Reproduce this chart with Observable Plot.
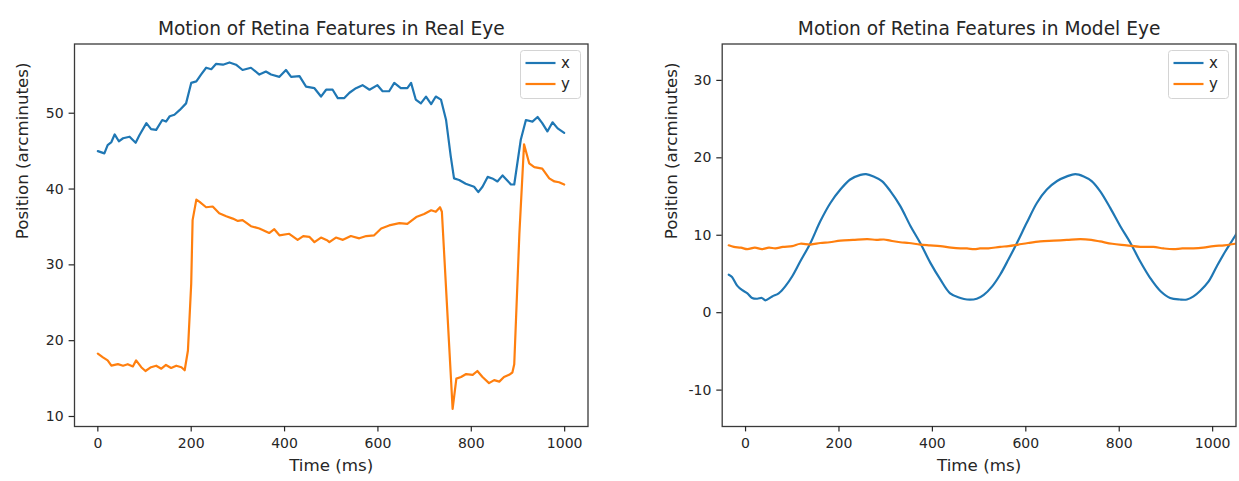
<!DOCTYPE html>
<html><head><meta charset="utf-8">
<script src="https://cdn.jsdelivr.net/npm/d3@7"></script>
<script src="https://cdn.jsdelivr.net/npm/@observablehq/plot@0.6"></script>
<style>
html,body{margin:0;padding:0;background:#fff;}
#wrap{position:relative;width:1239px;height:481px;overflow:hidden;}
#wrap svg{position:absolute;top:0;}
</style></head><body><div id="wrap"></div>
<script>
const seriesNames = ["x", "y"];
const seriesColors = ["#1f77b4", "#ff7f0e"];
const panelTitles = ["Motion of Retina Features in Real Eye", "Motion of Retina Features in Model Eye"];
const xLabel = "Time (ms)";
const yLabel = "Position (arcminutes)";
const timeTicks = [0, 200, 400, 600, 800, 1000];
const realYTicks = [10, 20, 30, 40, 50];
const modelYTicks = [-10, 0, 10, 20, 30];

// [time ms, position arcmin]
const realX = [[0,45.0],[14,44.7],[21,45.8],[29,46.2],[36,47.2],[45,46.3],[54,46.7],[68,46.9],[81,46.1],[89,47.1],[104,48.7],[114,47.9],[125,47.8],[138,49.1],[146,48.9],[154,49.6],[164,49.8],[175,50.4],[189,51.3],[200,54.0],[211,54.2],[221,55.1],[232,56.0],[243,55.8],[253,56.5],[268,56.4],[282,56.7],[296,56.4],[310,55.7],[328,56.0],[346,55.1],[360,55.5],[371,55.1],[389,54.8],[403,55.7],[414,54.8],[432,54.9],[446,53.5],[464,53.3],[478,52.2],[489,53.1],[503,53.1],[514,52.0],[528,52.0],[539,52.7],[553,53.3],[567,53.7],[582,53.1],[599,53.7],[610,52.9],[624,52.9],[635,54.0],[649,53.3],[663,53.3],[671,54.0],[681,51.8],[692,51.3],[703,52.2],[714,51.2],[724,52.2],[735,51.8],[746,49.1],[756,44.3],[763,41.4],[774,41.2],[788,40.7],[806,40.3],[815,39.6],[824,40.3],[835,41.6],[845,41.4],[856,41.0],[867,41.8],[885,40.6],[892,40.6],[906,46.5],[917,49.1],[931,48.9],[942,49.5],[952,48.7],[963,47.6],[974,48.8],[985,48.0],[999,47.4]];
const realY = [[0,18.3],[11,17.8],[21,17.4],[29,16.7],[43,16.9],[54,16.7],[64,16.9],[75,16.6],[82,17.4],[93,16.5],[102,16.0],[114,16.5],[125,16.7],[136,16.3],[146,16.8],[157,16.4],[168,16.7],[179,16.5],[186,16.1],[193,18.7],[200,27.5],[203,35.9],[211,38.6],[218,38.3],[232,37.6],[246,37.7],[260,36.8],[275,36.4],[289,36.1],[300,35.8],[310,35.9],[328,35.1],[346,34.8],[367,34.2],[378,34.7],[389,33.9],[410,34.1],[428,33.3],[440,33.8],[453,33.7],[464,33.0],[478,33.6],[492,33.2],[496,33.0],[510,33.6],[525,33.3],[542,33.8],[560,33.5],[575,33.8],[592,33.9],[607,34.8],[624,35.2],[646,35.5],[663,35.4],[682,36.3],[699,36.7],[714,37.2],[724,37.0],[733,37.6],[737,37.0],[760,11.0],[768,15.0],[778,15.2],[789,15.6],[803,15.5],[813,16.0],[824,15.2],[838,14.4],[849,14.8],[860,14.6],[870,15.2],[881,15.5],[888,15.8],[892,16.9],[903,34.1],[913,45.9],[924,43.4],[935,42.9],[952,42.7],[967,41.4],[978,41.0],[988,40.9],[999,40.6]];
const modelX = [[-36,4.9],[-29,4.6],[-18,3.5],[-7,2.9],[4,2.5],[14,1.9],[25,1.8],[35,1.9],[42,1.6],[57,2.1],[71,2.5],[85,3.4],[100,4.7],[117,6.6],[139,9.0],[160,11.8],[182,14.2],[203,15.9],[224,17.2],[246,17.8],[258,17.9],[274,17.6],[292,17.0],[310,15.7],[331,13.8],[353,11.2],[374,9.0],[396,6.4],[417,4.3],[438,2.5],[460,1.9],[474,1.7],[495,1.8],[510,2.3],[528,3.4],[545,4.9],[563,6.9],[581,9.0],[602,11.6],[624,14.2],[645,15.9],[667,17.0],[688,17.6],[706,17.9],[724,17.6],[741,17.0],[759,15.7],[781,13.5],[802,11.2],[824,9.0],[845,6.6],[866,4.5],[888,2.8],[909,1.9],[930,1.7],[945,1.7],[959,2.1],[973,2.8],[991,4.0],[1009,6.0],[1027,7.9],[1048,9.9],[1060,11.2]];
const modelY = [[-36,8.7],[-25,8.5],[-10,8.4],[4,8.2],[20,8.4],[35,8.2],[50,8.4],[64,8.3],[80,8.5],[100,8.6],[117,8.9],[139,8.8],[160,9.0],[180,9.1],[203,9.3],[230,9.4],[261,9.5],[280,9.4],[296,9.45],[310,9.3],[331,9.1],[350,9.0],[374,8.8],[395,8.7],[417,8.6],[440,8.4],[460,8.3],[474,8.3],[490,8.2],[502,8.3],[520,8.3],[545,8.5],[563,8.6],[584,8.8],[605,9.0],[631,9.2],[660,9.3],[688,9.4],[717,9.5],[740,9.4],[759,9.2],[785,8.9],[816,8.7],[845,8.5],[873,8.5],[895,8.3],[916,8.2],[935,8.3],[959,8.3],[980,8.4],[1002,8.6],[1025,8.7],[1048,8.9],[1060,9.0]];

const FONT = "DejaVu Sans";
const TEXT = "#262626";

function rows(pairs, s) { return pairs.map(([t, v]) => ({t, v, s})); }

function panel({title, series, yDomain, yTicks, width, marginLeft, marginRight, left, labelDx, curve}) {
  const marginTop = 43.5, marginBottom = 55, height = 481;
  const data = series.flatMap((p, i) => rows(p, seriesNames[i]));
  const chart = Plot.plot({
    width, height, marginLeft, marginRight, marginTop, marginBottom,
    style: {fontFamily: FONT, fontSize: "14px", color: TEXT, background: "transparent", overflow: "visible"},
    x: {domain: [-50, 1050]},
    y: {domain: yDomain},
    color: {domain: seriesNames, range: seriesColors},
    marks: [
      Plot.line(data, {x: "t", y: "v", z: "s", stroke: "s", strokeWidth: 2.2, curve, clip: true}),
      Plot.frame({stroke: "#3a3a3a", strokeWidth: 1.3}),
      Plot.axisX({ticks: timeTicks, tickSize: 5.4, tickPadding: 6.5, label: null, fontSize: 14, strokeWidth: 1.2, tickFormat: d => String(d)}),
      Plot.axisY({ticks: yTicks, tickSize: 5.4, tickPadding: 5.5, label: null, fontSize: 14, strokeWidth: 1.2, tickFormat: d => String(d)}),
      Plot.text([title], {frameAnchor: "top", dy: -22.5, fontSize: 18.6, text: d => d, fill: TEXT}),
      Plot.text([xLabel], {frameAnchor: "bottom", dy: 44, fontSize: 16.7, text: d => d, fill: TEXT}),
      Plot.text([yLabel], {frameAnchor: "left", dx: labelDx, dy: 4, rotate: -90, fontSize: 16.7, text: d => d, fill: TEXT})
    ]
  });
  chart.style.left = left + "px";
  // legend (upper right)
  const svg = d3.select(chart);
  const bw = 60, bh = 48;
  const g = svg.append("g")
    .attr("transform", `translate(${width - marginRight - 7 - bw},${marginTop + 7})`)
    .attr("font-family", FONT).attr("font-size", 15);
  g.append("rect").attr("width", bw).attr("height", bh).attr("rx", 3)
    .attr("fill", "white").attr("fill-opacity", 0.85).attr("stroke", "#d4d4d4");
  seriesNames.forEach((n, i) => {
    const yy = 12.5 + i * 21;
    g.append("line").attr("x1", 5).attr("x2", 35).attr("y1", yy).attr("y2", yy)
      .attr("stroke", seriesColors[i]).attr("stroke-width", 2.2);
    g.append("text").attr("x", 45).attr("y", yy).attr("dy", "0.35em").attr("fill", TEXT).text(n);
  });
  return chart;
}

const wrap = document.getElementById("wrap");
wrap.appendChild(panel({title: panelTitles[0], series: [realX, realY], yDomain: [8.68, 59.13], yTicks: realYTicks,
  width: 620, marginLeft: 74, marginRight: 32.5, left: 0, labelDx: -52, curve: "linear"}));
wrap.appendChild(panel({title: panelTitles[1], series: [modelX, modelY], yDomain: [-14.7, 34.7], yTicks: modelYTicks,
  width: 619, marginLeft: 101.7, marginRight: 3.5, left: 620, labelDx: -51, curve: "catmull-rom"}));
</script></body></html>
